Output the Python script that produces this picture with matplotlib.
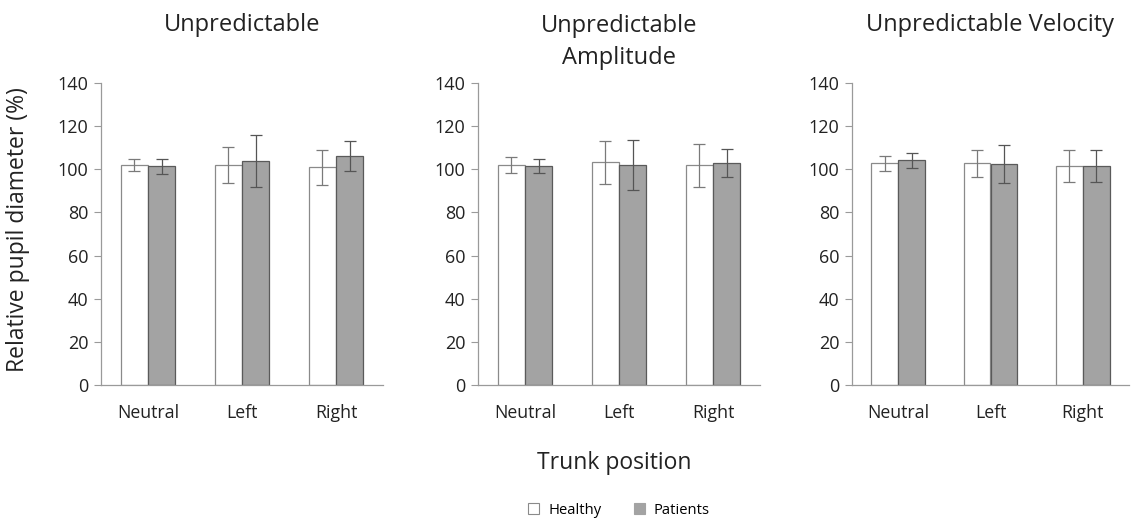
import numpy as np
import matplotlib.pyplot as plt
from matplotlib.patches import Patch

plt.rcParams['font.family'] = ['Open Sans', 'DejaVu Sans']

positions = ["Neutral", "Left", "Right"]
titles = ["Unpredictable", "Unpredictable\nAmplitude", "Unpredictable Velocity"]

# means and errors, one row per panel
healthy_mean = [[102.1, 102.1, 100.9], [102.1, 103.2, 101.9], [102.8, 102.8, 101.6]]
healthy_err = [[2.8, 8.3, 8.2], [3.8, 10.0, 10.0], [3.5, 6.2, 7.4]]
patients_mean = [[101.3, 104.0, 106.0], [101.6, 101.8, 102.9], [104.1, 102.5, 101.5]]
patients_err = [[3.5, 12.0, 7.0], [3.1, 11.6, 6.3], [3.4, 8.8, 7.3]]

fig = plt.figure(figsize=(11.32, 5.2), dpi=100)
lefts = [101, 478, 852]
widths = [282, 282, 277]
title_y = [25, 42, 25]
x = np.arange(len(positions))
w = 0.29
axcol = "#9a9a9a"
txt = "#222222"

for i in range(3):
    ax = fig.add_axes([lefts[i] / 1132, 1 - 385 / 520, widths[i] / 1132, 302 / 520])
    ax.bar(x - w / 2, healthy_mean[i], w, color="white", edgecolor="#8a8a8a", linewidth=0.9)
    ax.bar(x + w / 2, patients_mean[i], w, color="#a3a3a3", edgecolor="#5a5a5a", linewidth=0.9)
    ax.errorbar(x - w / 2, healthy_mean[i], yerr=healthy_err[i], fmt="none",
                ecolor="#7a7a7a", elinewidth=0.9, capsize=4, capthick=0.9)
    ax.errorbar(x + w / 2, patients_mean[i], yerr=patients_err[i], fmt="none",
                ecolor="#555555", elinewidth=0.9, capsize=4, capthick=0.9)
    ax.set_xlim(-0.5, 2.5)
    ax.set_ylim(0, 140)
    ax.set_yticks(range(0, 141, 20))
    ax.set_xticks(x)
    ax.set_xticklabels(positions)
    ax.tick_params(axis="x", length=0, pad=14, labelsize=12.8, colors=txt)
    ax.tick_params(axis="y", length=5, width=0.8, color=axcol, pad=4, labelsize=13,
                   labelcolor=txt)
    for s in ["top", "right"]:
        ax.spines[s].set_visible(False)
    for s in ["left", "bottom"]:
        ax.spines[s].set_color(axcol)
        ax.spines[s].set_linewidth(0.9)
    fig.text((lefts[i] + widths[i] / 2) / 1132, 1 - title_y[i] / 520, titles[i],
             ha="center", va="center", fontsize=17, color=txt, linespacing=1.45)

fig.text(18 / 1132, 1 - 230 / 520, "Relative pupil diameter (%)", rotation=90,
         ha="center", va="center", fontsize=16.5, color=txt)
fig.text(614 / 1132, 1 - 463 / 520, "Trunk position", ha="center", va="center",
         fontsize=16.5, color=txt)

handles = [Patch(facecolor="white", edgecolor="#8a8a8a", linewidth=0.8, label="Healthy"),
           Patch(facecolor="#a3a3a3", edgecolor="#a3a3a3", linewidth=0.8, label="Patients")]
fig.legend(handles=handles, loc="center", bbox_to_anchor=(619 / 1132, 1 - 510 / 520),
           ncol=2, frameon=False, fontsize=10.6, handlelength=0.75, handleheight=0.75,
           handletextpad=0.6, columnspacing=2.2)

fig.savefig("out.png", dpi=100)
